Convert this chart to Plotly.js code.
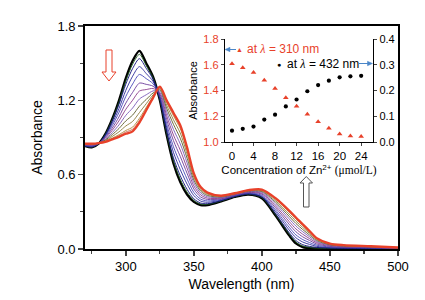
<!DOCTYPE html>
<html><head><meta charset="utf-8">
<script src="https://cdn.plot.ly/plotly-3.0.1.min.js"></script>
<style>html,body{margin:0;padding:0;background:#fff;}#chart{width:425px;height:300px;}</style>
</head><body><div id="chart"></div>
<script>
// ---- main spectra (absorbance vs wavelength), 13 titration steps ----
const wavelength = [270,275,280,285,290,295,300,305,310,315,320,325,330,335,340,345,350,355,360,370,380,390,400,410,420,425,430,435,440,450,460,480,500];
const spec0  = [0.830,0.820,0.850,0.930,1.050,1.200,1.380,1.520,1.600,1.500,1.390,1.200,0.920,0.690,0.540,0.440,0.380,0.355,0.355,0.385,0.420,0.440,0.410,0.270,0.110,0.045,0.015,0.006,0.003,0.002,0.002,0.002,0.002];
const spec1  = [0.831,0.822,0.850,0.927,1.042,1.185,1.358,1.492,1.571,1.481,1.382,1.206,0.934,0.711,0.563,0.459,0.392,0.362,0.360,0.387,0.422,0.442,0.414,0.277,0.120,0.055,0.024,0.013,0.007,0.004,0.003,0.003,0.003];
const spec2  = [0.832,0.823,0.850,0.923,1.032,1.168,1.331,1.457,1.536,1.458,1.371,1.212,0.951,0.735,0.591,0.482,0.405,0.371,0.366,0.390,0.423,0.444,0.418,0.285,0.132,0.068,0.035,0.021,0.013,0.007,0.005,0.004,0.003];
const spec3  = [0.834,0.827,0.851,0.916,1.014,1.135,1.281,1.395,1.472,1.416,1.353,1.224,0.982,0.780,0.641,0.524,0.431,0.387,0.377,0.395,0.427,0.448,0.425,0.301,0.154,0.091,0.056,0.037,0.022,0.011,0.008,0.006,0.004];
const spec4  = [0.837,0.830,0.852,0.909,0.996,1.103,1.232,1.332,1.409,1.375,1.334,1.236,1.012,0.825,0.692,0.565,0.456,0.403,0.388,0.400,0.430,0.452,0.433,0.316,0.176,0.114,0.076,0.052,0.032,0.016,0.012,0.009,0.005];
const spec5  = [0.839,0.834,0.852,0.901,0.976,1.067,1.178,1.264,1.339,1.329,1.314,1.250,1.046,0.875,0.747,0.611,0.484,0.420,0.400,0.405,0.434,0.456,0.442,0.333,0.200,0.139,0.098,0.069,0.042,0.021,0.015,0.011,0.006];
const spec6  = [0.841,0.837,0.853,0.894,0.958,1.035,1.128,1.201,1.275,1.287,1.295,1.262,1.077,0.920,0.798,0.653,0.509,0.436,0.411,0.410,0.437,0.460,0.449,0.348,0.222,0.162,0.119,0.084,0.052,0.026,0.018,0.013,0.008];
const spec7  = [0.843,0.840,0.853,0.886,0.939,1.002,1.079,1.138,1.211,1.245,1.276,1.274,1.108,0.965,0.848,0.695,0.534,0.452,0.422,0.415,0.440,0.463,0.457,0.364,0.244,0.185,0.139,0.099,0.061,0.030,0.021,0.015,0.009];
const spec8  = [0.845,0.843,0.854,0.880,0.923,0.973,1.034,1.081,1.153,1.207,1.259,1.285,1.136,1.006,0.894,0.733,0.557,0.467,0.432,0.420,0.443,0.467,0.464,0.378,0.264,0.206,0.157,0.113,0.070,0.034,0.024,0.017,0.010];
const spec9  = [0.847,0.846,0.854,0.874,0.908,0.946,0.993,1.030,1.101,1.173,1.244,1.295,1.161,1.043,0.936,0.767,0.578,0.480,0.441,0.424,0.446,0.470,0.470,0.390,0.282,0.225,0.174,0.126,0.078,0.038,0.027,0.019,0.011];
const spec10 = [0.849,0.848,0.855,0.869,0.895,0.923,0.957,0.984,1.055,1.143,1.230,1.303,1.183,1.075,0.972,0.797,0.596,0.491,0.449,0.427,0.448,0.473,0.476,0.402,0.298,0.241,0.189,0.137,0.085,0.041,0.029,0.021,0.011];
const spec11 = [0.849,0.849,0.855,0.867,0.890,0.914,0.944,0.967,1.037,1.131,1.225,1.307,1.192,1.088,0.986,0.809,0.603,0.496,0.452,0.429,0.449,0.474,0.478,0.406,0.304,0.248,0.194,0.141,0.087,0.043,0.030,0.021,0.012];
const spec12 = [0.850,0.850,0.855,0.865,0.885,0.905,0.930,0.950,1.020,1.120,1.220,1.310,1.200,1.100,1.000,0.820,0.610,0.500,0.455,0.430,0.450,0.475,0.480,0.410,0.310,0.254,0.200,0.145,0.090,0.044,0.031,0.022,0.012];
const spectra = [spec0,spec1,spec2,spec3,spec4,spec5,spec6,spec7,spec8,spec9,spec10,spec11,spec12];
const curveColors = ['#000000','#1d5a1d','#10107a','#2a2a9a','#4646b8','#6a3a9a','#8a3a8a','#7a5ab8','#5e5e2a','#8a7a3a','#b08a3a','#c8604a','#e8412a'];

// ---- inset: absorbance vs Zn2+ concentration ----
const concentration = [0,2,4,6,8,10,12,14,16,18,20,22,24];
const abs310 = [1.608,1.577,1.540,1.480,1.416,1.343,1.278,1.216,1.158,1.106,1.062,1.047,1.042];
const abs432 = [0.044,0.051,0.060,0.087,0.106,0.138,0.165,0.197,0.221,0.238,0.251,0.255,0.257];

// tick labels
const xTicks = [300,350,400,450,500];
const xMinor = [275,325,375,425,475];
const yTicks = [0,0.6,1.2,1.8];
const yTickText = ['0.0','0.6','1.2','1.8'];
const yMinor = [0.3,0.9,1.5];
const insetXTicks = [0,4,8,12,16,20,24];

const RED = '#e8412a';
const BLUE = '#4a86c8';
const FONT = 'Liberation Sans, Arial, sans-serif';
const LAMBDA = '<span style="font-family:Liberation Serif;font-style:italic">λ</span>';

// pixel helpers for decorations
const L=85, R=398, T=26, B=249;
const px = v => (v-L)/(R-L);
const py = v => (B-v)/(B-T);

const traces = spectra.map((s,i)=>({
  x: wavelength, y: s, type:'scatter', mode:'lines', showlegend:false, hoverinfo:'skip',
  line:{color:curveColors[i], width:(i===0||i===spectra.length-1)?2.3:0.9, shape:'spline', smoothing:0.8},
  xaxis:'x', yaxis:'y'
}));
traces.push({x:concentration, y:abs310, type:'scatter', mode:'markers', showlegend:false,
  marker:{symbol:'triangle-up', size:5, color:RED}, xaxis:'x2', yaxis:'y2'});
traces.push({x:concentration, y:abs432, type:'scatter', mode:'markers', showlegend:false,
  marker:{symbol:'circle', size:4.2, color:'#000'}, xaxis:'x2', yaxis:'y3'});

function pathFrom(pts, close){
  return 'M' + pts.map(p=>px(p[0]).toFixed(4)+','+py(p[1]).toFixed(4)).join(' L') + (close?' Z':'');
}
const downArrow = pathFrom([[106,50],[112,50],[112,72],[116,72],[109,81],[102,72],[106,72]], true);
const upArrow = pathFrom([[303.5,207],[309,207],[309,183],[312.5,183],[306.3,176.5],[300,183],[303.5,183]], true);
const leftHead = pathFrom([[225,49.5],[230,47.3],[230,51.7]], true);
const rightHead = pathFrom([[372.5,63.5],[367.5,61.3],[367.5,65.7]], true);

const layout = {
  width:425, height:300,
  margin:{l:L, r:425-R, t:T, b:300-B, pad:0},
  paper_bgcolor:'#fff', plot_bgcolor:'rgba(0,0,0,0)',
  font:{family:FONT, color:'#000', size:13},
  showlegend:false,
  xaxis:{domain:[0,1], range:[270,500], tickvals:xTicks, ticks:'outside', ticklen:5, tickwidth:1.5,
    minor:{tickvals:xMinor, ticks:'outside', ticklen:3, tickwidth:1.2},
    showline:true, mirror:true, linewidth:1.8, linecolor:'#000', showgrid:false, zeroline:false,
    tickfont:{size:13}, title:{text:'Wavelength (nm)', font:{size:14}, standoff:6}, automargin:false},
  yaxis:{domain:[0,1], range:[0,1.8], tickvals:yTicks, ticktext:yTickText, ticks:'outside', ticklen:5, tickwidth:1.5,
    minor:{tickvals:yMinor, ticks:'outside', ticklen:3, tickwidth:1.2},
    showline:true, mirror:true, linewidth:1.8, linecolor:'#000', showgrid:false, zeroline:false,
    tickfont:{size:13}, title:{text:'Absorbance', font:{size:14}, standoff:12}, automargin:false},
  xaxis2:{anchor:'y2', domain:[px(225), px(373)], range:[-1.3,26.2], tickvals:insetXTicks, ticks:'outside', ticklen:3, tickwidth:1,
    showline:true, linewidth:1.2, linecolor:'#000', showgrid:false, zeroline:false, tickfont:{size:11.5},
    title:{text:'Concentration of Zn<sup>2+</sup> <span style="font-family:Liberation Serif">(μmol/L)</span>', font:{size:11.5}, standoff:5}, automargin:false},
  yaxis2:{anchor:'x2', domain:[py(142), py(39)], range:[1.0,1.8], dtick:0.2, tickformat:'.1f', ticks:'outside', ticklen:3, tickwidth:1,
    showline:true, linewidth:1.2, linecolor:'#000', showgrid:false, zeroline:false, tickfont:{size:11, color:RED},
    title:{text:'Absorbance', font:{size:11}, standoff:3}, automargin:false},
  yaxis3:{anchor:'x2', overlaying:'y2', side:'right', range:[0,0.4], dtick:0.1, tickformat:'.1f', ticks:'outside', ticklen:3, tickwidth:1,
    showline:true, linewidth:1.2, linecolor:'#000', showgrid:false, zeroline:false, tickfont:{size:11}, automargin:false},
  shapes:[
    {type:'path', xref:'paper', yref:'paper', path:downArrow, line:{color:RED, width:1}, fillcolor:'rgba(255,255,255,0)'},
    {type:'path', xref:'paper', yref:'paper', path:upArrow, line:{color:'#555', width:1}, fillcolor:'rgba(255,255,255,0)'},
    {type:'line', xref:'paper', yref:'paper', x0:px(229), x1:px(236), y0:py(49.5), y1:py(49.5), line:{color:BLUE, width:1}},
    {type:'path', xref:'paper', yref:'paper', path:leftHead, line:{color:BLUE, width:0.5}, fillcolor:BLUE},
    {type:'line', xref:'paper', yref:'paper', x0:px(359), x1:px(368), y0:py(63.5), y1:py(63.5), line:{color:BLUE, width:1}},
    {type:'path', xref:'paper', yref:'paper', path:rightHead, line:{color:BLUE, width:0.5}, fillcolor:BLUE}
  ],
  annotations:[
    {xref:'paper', yref:'paper', x:px(239.5), y:py(49.5), text:'▲', showarrow:false, font:{size:7, color:RED}, xanchor:'center', yanchor:'middle'},
    {xref:'paper', yref:'paper', x:px(245), y:py(49), text:'at ' + LAMBDA + ' = 310 nm', showarrow:false, font:{size:12, color:RED}, xanchor:'left', yanchor:'middle'},
    {xref:'paper', yref:'paper', x:px(279), y:py(64), text:'●', showarrow:false, font:{size:7, color:'#000'}, xanchor:'center', yanchor:'middle'},
    {xref:'paper', yref:'paper', x:px(285), y:py(64), text:'at ' + LAMBDA + ' = 432 nm', showarrow:false, font:{size:12, color:'#000'}, xanchor:'left', yanchor:'middle'}
  ]
};

Plotly.newPlot('chart', traces, layout, {staticPlot:true, displayModeBar:false});
</script>
</body></html>
